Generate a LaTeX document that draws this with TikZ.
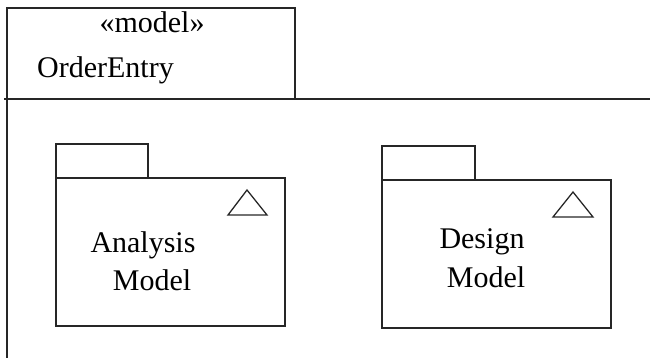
\documentclass[tikz,border=0pt]{standalone}
\usepackage{fontspec}
\setmainfont{Liberation Serif}
\begin{document}
\begin{tikzpicture}[x=1pt,y=-1pt,
  ln/.style={line width=1.3pt,draw=black!85},
  lbl/.style={font=\fontsize{30}{36}\selectfont,inner sep=0pt,anchor=base}]
\useasboundingbox (0,0) rectangle (650,358);
% frame
\coordinate (ftl) at (7,8);
\coordinate (fbl) at (7,358);
\coordinate (hl) at (4,99);
\coordinate (hr) at (650,99);
\coordinate (ftr) at (295,8);
\coordinate (fbr) at (295,99);
\draw[ln] (fbl) -- (ftl) -- (ftr) -- (fbr);
\draw[ln] (hl) -- (hr);
\node[lbl] (st) at (152,33) {«model»};
\node[lbl,anchor=base west] (oe) at (37,78) {OrderEntry};
% left package
\draw[ln] (56,178) -- (56,144) -- (148,144) -- (148,178);
\draw[ln] (56,178) rectangle (285,326);
\draw[ln] (228,215) -- (247,190) -- (267,215) -- cycle;
\node[lbl] (a1) at (143,252) {Analysis};
\node[lbl] (a2) at (152,290) {Model};
% right package
\draw[ln] (382,180) -- (382,146) -- (475,146) -- (475,180);
\draw[ln] (382,180) rectangle (611,328);
\draw[ln] (553,217) -- (573,192) -- (593,217) -- cycle;
\node[lbl] (d1) at (482,248) {Design};
\node[lbl] (d2) at (486,287) {Model};
\end{tikzpicture}
\end{document}
